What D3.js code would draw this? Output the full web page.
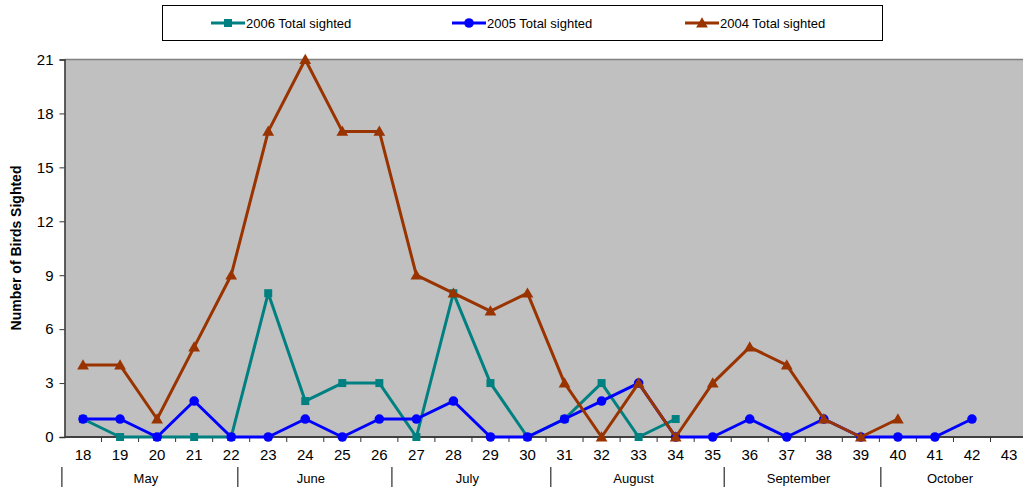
<!DOCTYPE html>
<html><head><meta charset="utf-8">
<script src="https://cdn.jsdelivr.net/npm/d3@7"></script>
<style>body{margin:0;background:#fff;font-family:Arial,"Liberation Sans",sans-serif}</style>
</head><body>
<svg id="c" width="1023" height="489"></svg>
<script>
const weeks = [18,19,20,21,22,23,24,25,26,27,28,29,30,31,32,33,34,35,36,37,38,39,40,41,42,43];
const s2006 = [1,0,0,0,0,8,2,3,3,0,8,3,0,1,3,0,1];
const s2005 = [1,1,0,2,0,0,1,0,1,1,2,0,0,1,2,3,0,0,1,0,1,0,0,0,1];
const s2004 = [4,4,1,5,9,17,21,17,17,9,8,7,8,3,0,3,0,3,5,4,1,0,1];
const yTicks = [0,3,6,9,12,15,18,21];
const months = ["May","June","July","August","September","October"];
const monthBounds = [17.43,22.18,26.34,30.63,35.31,39.54,43.8];
const seriesNames = ["2006 Total sighted","2005 Total sighted","2004 Total sighted"];

const svg = d3.select("#c");
const L = 64.5, T = 59.5, B = 437, step = 37.04;
const R = L + step*weeks.length;
const x = d3.scaleBand().domain(weeks).range([L, R]).padding(0);
const xl = d3.scaleLinear().domain([17.5, 43.5]).range([L, R]);
const y = d3.scaleLinear().domain([0,21]).range([B, T]);

svg.append("rect").attr("x",L).attr("y",T).attr("width",R-L).attr("height",B-T).attr("fill","#C0C0C0");
svg.append("line").attr("x1",L).attr("x2",R).attr("y1",T).attr("y2",T).attr("stroke","#808080").attr("stroke-width",1.5);

// Y axis
const ya = svg.append("g").attr("transform",`translate(${L},0)`)
  .call(d3.axisLeft(y).tickValues(yTicks).tickSize(5).tickPadding(6));
ya.select(".domain").attr("stroke","#333").attr("stroke-width",1.5);
ya.selectAll(".tick line").attr("stroke","#333");
ya.selectAll("text").attr("font-size",15).attr("font-family","Arial").attr("fill","#000");

// X axis
const xa = svg.append("g").attr("transform",`translate(0,${B})`)
  .call(d3.axisBottom(x).tickSize(0).tickPadding(12));
xa.select(".domain").remove();
xa.selectAll("text").attr("font-size",15).attr("font-family","Arial").attr("fill","#000");
svg.append("line").attr("x1",L).attr("x2",R).attr("y1",B).attr("y2",B).attr("stroke","#404040").attr("stroke-width",2);
svg.append("g").selectAll("line").data(weeks).join("line")
  .attr("x1",d=>x(d)+step).attr("x2",d=>x(d)+step).attr("y1",B).attr("y2",B+5)
  .attr("stroke","#333").attr("stroke-width",1);

// Month axis
svg.append("g").selectAll("line").data(monthBounds.slice(0,6)).join("line")
  .attr("x1",d=>xl(d)).attr("x2",d=>xl(d)).attr("y1",467).attr("y2",487)
  .attr("stroke","#000").attr("stroke-width",1);
svg.append("g").selectAll("text").data(months).join("text")
  .attr("x",(d,i)=>Math.min((xl(monthBounds[i])+xl(monthBounds[i+1]))/2, i===5?950:9999) - (i<5?4:0))
  .attr("y",483).attr("text-anchor","middle").attr("font-size",13).attr("font-family","Arial").text(d=>d);

// Y title
svg.append("text").attr("transform","translate(21,248) rotate(-90)").attr("text-anchor","middle")
  .attr("font-size",14).attr("font-weight","bold").attr("font-family","Arial").text("Number of Birds Sighted");

const cx = w => x(w) + step/2;
const line = d3.line().x((d,i)=>cx(weeks[i])).y(d=>y(d));
const colors = ["#008080","#0000FF","#993300"];
const data = [s2006, s2005, s2004];
const tri = d3.symbol().type(d3.symbolTriangle).size(60);

function marker(g, k, px, py){
  if(k===0) g.append("rect").attr("x",px-4).attr("y",py-4).attr("width",8).attr("height",8).attr("fill",colors[0]);
  else if(k===1) g.append("circle").attr("cx",px).attr("cy",py).attr("r",4.8).attr("fill",colors[1]);
  else g.append("path").attr("d",tri()).attr("transform",`translate(${px},${py+1})`).attr("fill",colors[2]);
}

data.forEach((s,k)=>{
  const g = svg.append("g");
  g.append("path").attr("d",line(s)).attr("fill","none").attr("stroke",colors[k]).attr("stroke-width",3).attr("stroke-linejoin","round");
  s.forEach((v,i)=>marker(g,k,cx(weeks[i]),y(v)));
});

// Legend
svg.append("rect").attr("x",162.5).attr("y",5.5).attr("width",720).attr("height",35).attr("fill","#fff").attr("stroke","#000").attr("stroke-width",1);
const lx = [211,452,685];
seriesNames.forEach((n,k)=>{
  const g = svg.append("g");
  g.append("line").attr("x1",lx[k]).attr("x2",lx[k]+34).attr("y1",23).attr("y2",23).attr("stroke",colors[k]).attr("stroke-width",3);
  marker(g,k,lx[k]+17,23);
  g.append("text").attr("x",lx[k]+35).attr("y",27.5).attr("font-size",13).attr("font-family","Arial").text(n);
});
</script>
</body></html>
